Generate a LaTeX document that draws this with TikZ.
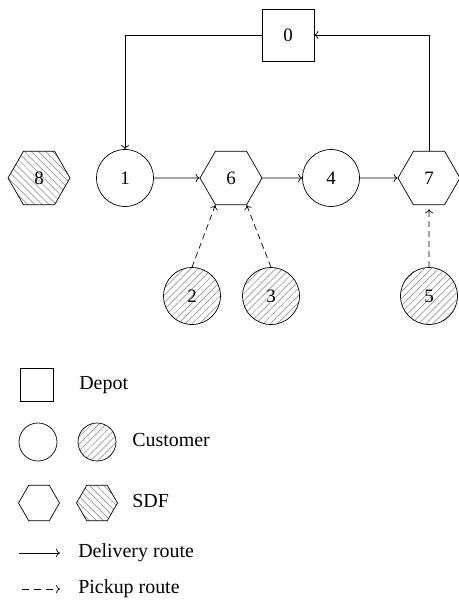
\documentclass[tikz,border=0pt]{standalone}
\usepackage{fontspec}
\setmainfont{Liberation Serif}
\usetikzlibrary{shapes.geometric, arrows.meta, patterns.meta}
\tikzstyle{depot} = [rectangle, minimum size=52bp, inner sep=0pt, text centered, draw=black]
\tikzstyle{customer} = [circle, minimum size=57bp, inner sep=0pt, text centered, draw=black]
\tikzstyle{hatchcust} = [customer, pattern={Lines[angle=45, distance=5bp, line width=0.5bp]}, pattern color=black!50]
\tikzstyle{sdf} = [regular polygon, regular polygon sides=6, minimum size=62bp, inner sep=0pt, text centered, draw=black]
\tikzstyle{hatchsdf} = [sdf, pattern={Lines[angle=-45, distance=5bp, line width=0.5bp]}, pattern color=black!50]
\tikzstyle{arrow} = [line width=0.7bp, ->, >={To[length=4bp, width=8bp]}]
\tikzstyle{pickarrow} = [arrow, dashed, dash pattern=on 6bp off 4bp]
\tikzstyle{legtext} = [anchor=west, inner sep=0pt, font=\fontsize{20}{24}\selectfont]

\begin{document}
\begin{tikzpicture}[x=1bp, y=1bp, node distance=100bp, line width=0.7bp, font=\fontsize{19}{22}\selectfont]
	\useasboundingbox (0,0) rectangle (459,-601);
	\node (n0) [depot] at (288,-35) {0};
	\node (n1) [customer] at (125,-178) {1};
	\node (n6) [sdf, right of=n1, xshift=6bp] {6};
	\node (n4) [customer, right of=n6] {4};
	\node (n7) [sdf, right of=n4, xshift=-2bp] {7};
	\node (n8) [hatchsdf, left of=n1, xshift=14bp] {8};
	\node (n2) [hatchcust] at (192,-296) {2};
	\node (n3) [hatchcust] at (271,-296) {3};
	\node (n5) [hatchcust, below of=n7, yshift=-18bp] {5};
	%lines
	\draw [arrow] (n0.west) -| (n1);
	\draw [arrow] (n1) -- (n6);
	\draw [arrow] (n6) -- (n4);
	\draw [arrow] (n4) -- (n7);
	\draw [arrow] (n7.north) |- (n0);
	\draw [pickarrow] (n2.north) -- (n6.240);
	\draw [pickarrow] (n3.north) -- (n6.300);
	\draw [pickarrow] (n5) -- ([yshift=-4bp]n7.south);
	%legend
	\node (ldepot) [depot, minimum size=33bp] at (37,-385) {};
	\node (tdepot) [legtext] at (79,-385) {Depot};
	\node (lcust) [customer, minimum size=38bp] at (38,-442) {};
	\node (lhcust) [hatchcust, minimum size=38bp] at (97,-442) {};
	\node (tcust) [legtext] at (132,-440) {Customer};
	\node (lsdf) [sdf, minimum size=41bp] at (39,-503) {};
	\node (lhsdf) [hatchsdf, minimum size=41bp] at (97,-503) {};
	\node (tsdf) [legtext] at (132,-501) {SDF};
	\coordinate (ld1) at (19,-553);
	\coordinate (ld2) at (60,-553);
	\coordinate (lp1) at (22,-589);
	\coordinate (lp2) at (60,-589);
	\draw [arrow] (ld1) -- (ld2);
	\draw [arrow, dashed, dash pattern=on 7bp off 5bp] (lp1) -- (lp2);
	\node (tdel) [legtext] at (78,-553) {Delivery route};
	\node (tpick) [legtext] at (78,-589) {Pickup route};
\end{tikzpicture}
\end{document}
